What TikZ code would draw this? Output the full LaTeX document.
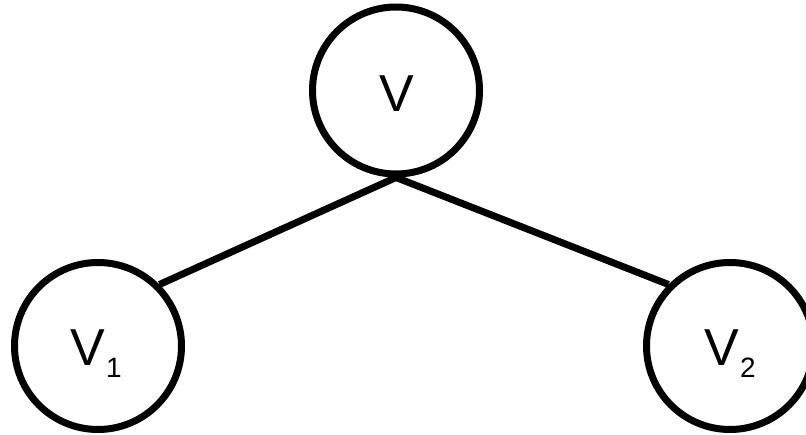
\documentclass[tikz,border=0pt]{standalone}
\usepackage{fontspec}
\setmainfont{Liberation Sans}
\begin{document}
\begin{tikzpicture}[x=1pt,y=-1pt,
  vert/.style={draw=black,circle,line width=7pt,minimum size=167pt,inner sep=0pt},
  lbl/.style={anchor=base,inner sep=0pt,font=\fontsize{52}{52}\selectfont},
  edge/.style={draw=black,line width=7pt}]
\useasboundingbox (0,0) rectangle (806,435);
\node[vert] (v) at (396,90.5) {};
\node[vert] (v1) at (98,346) {};
\node[vert] (v2) at (730,346) {};
\node[lbl] (tv) at (396.5,112) {V};
\node[lbl] (tv1) at (96,366) {V\kern1pt\raisebox{-12pt}{\fontsize{28}{28}\selectfont 1}};
\node[lbl] (tv2) at (730,366) {V\kern1pt\raisebox{-12pt}{\fontsize{28}{28}\selectfont 2}};
\draw[edge] (v.south) -- (v1.45);
\draw[edge] (v.south) -- (v2.135);
\end{tikzpicture}
\end{document}
